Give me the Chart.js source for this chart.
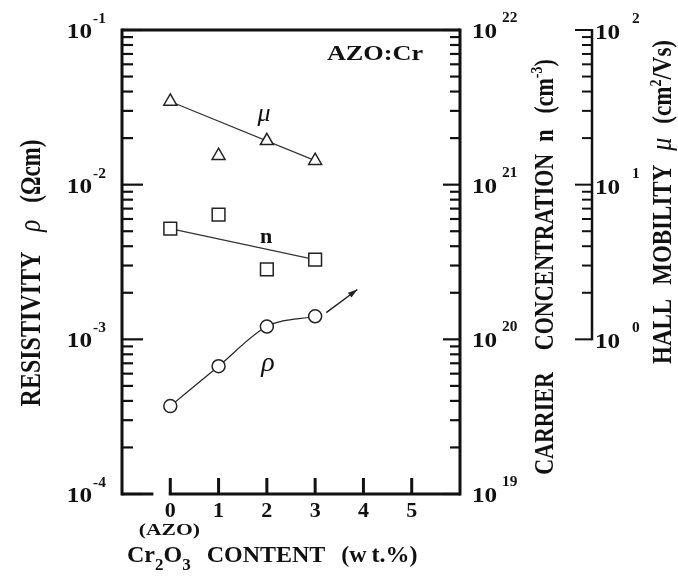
<!DOCTYPE html>
<html>
<head>
<meta charset="utf-8">
<script src="https://cdn.jsdelivr.net/npm/chart.js@4.4.0/dist/chart.umd.min.js"></script>
<style>
  html, body { margin: 0; padding: 0; background: #fff; }
  #wrap { width: 678px; height: 579px; position: relative; }
</style>
</head>
<body>
<div id="wrap"><canvas id="azoChart"></canvas></div>
<script>
// Cr2O3 content (wt.%) and measured film properties
const contents = [0, 1, 2, 3];
const resistivity = [3.7e-4, 6.7e-4, 1.21e-3, 1.41e-3];   // Ω cm
const carrierConc = [5.2e20, 6.4e20, 2.83e20, 3.28e20];    // cm^-3
const mobility = [34.5, 15.4, 19.2, 14.3];                 // cm2/Vs

// straight trend lines for n and mu
const fitContents = [0, 3];
const carrierFit = [5.2e20, 3.28e20];
const mobilityFit = [34.5, 14.3];

// arrow that continues the resistivity curve
const rhoArrow = [[3.23, 1.49e-3], [3.875, 2.1e-3]];

const xTicks = [0, 1, 2, 3, 4, 5];
const rhoDecades = [-4, -3, -2, -1];
const nDecades = [19, 20, 21, 22];
const muDecades = [0, 1, 2];

const SERIF = '"Liberation Serif", "DejaVu Serif", serif';
const INK = '#111';

function pts(xs, ys) {
  return xs.map((x, i) => ({ x: x, y: ys[i] }));
}

// draws a row of text pieces (for super/subscripts), optionally rotated and stretched
function drawRuns(ctx, runs, x, y, o) {
  o = o || {};
  ctx.save();
  ctx.translate(x, y);
  if (o.angle) ctx.rotate(o.angle);
  ctx.scale(o.sx || 1, o.sy || 1);
  ctx.fillStyle = INK;
  ctx.textAlign = 'left';
  ctx.textBaseline = 'alphabetic';
  let w = 0;
  runs.forEach(r => { ctx.font = r.font; w += ctx.measureText(r.text).width + (r.gap || 0); });
  let cx = o.align === 'center' ? -w / 2 : o.align === 'right' ? -w : 0;
  runs.forEach(r => {
    ctx.font = r.font;
    ctx.fillText(r.text, cx, r.dy || 0);
    cx += ctx.measureText(r.text).width + (r.gap || 0);
  });
  ctx.restore();
}

function line(ctx, x1, y1, x2, y2) {
  ctx.beginPath();
  ctx.moveTo(x1, y1);
  ctx.lineTo(x2, y2);
  ctx.stroke();
}

// log ticks: major at every decade, minor at 2..9
function logTicks(ctx, scale, decades, x0, dir, major, minor) {
  decades.forEach((d, i) => {
    const y = scale.getPixelForValue(Math.pow(10, d));
    line(ctx, x0, y, x0 + dir * major, y);
    if (i < decades.length - 1) {
      for (let m = 2; m <= 9; m++) {
        const ym = scale.getPixelForValue(m * Math.pow(10, d));
        line(ctx, x0, ym, x0 + dir * minor, ym);
      }
    }
  });
}

const axesPlugin = {
  id: 'axesPlugin',
  afterDraw(chart) {
    const { ctx, chartArea: a, scales } = chart;
    const sx = scales.x, sy = scales.y, sn = scales.yN, sm = scales.yMu;
    const bold = s => 'bold ' + s + 'px ' + SERIF;
    const ital = s => 'italic ' + s + 'px ' + SERIF;

    ctx.save();
    ctx.strokeStyle = INK;
    ctx.lineCap = 'butt';

    // frame, bottom line broken just before x = 0
    ctx.lineWidth = 3;
    line(ctx, a.left, a.top - 1.5, a.left, a.bottom + 1.5);
    line(ctx, a.right, a.top - 1.5, a.right, a.bottom + 1.5);
    line(ctx, a.left, a.top, a.right, a.top);
    line(ctx, a.left, a.bottom, sx.getPixelForValue(-0.35), a.bottom);
    line(ctx, sx.getPixelForValue(0) - 1.5, a.bottom, a.right, a.bottom);

    // x ticks point up
    xTicks.forEach(v => {
      const x = sx.getPixelForValue(v);
      line(ctx, x, a.bottom, x, a.bottom - 16);
    });

    // inward log ticks on both sides of the frame
    ctx.lineWidth = 2.2;
    logTicks(ctx, sy, rhoDecades, a.left, 1, 21, 11);
    logTicks(ctx, sn, nDecades, a.right, -1, 17, 10);

    // separate mobility axis
    const mx = a.right + 132;
    ctx.lineWidth = 2.5;
    line(ctx, mx, sm.getPixelForValue(1) + 1, mx, sm.getPixelForValue(100) - 1);
    ctx.lineWidth = 2;
    logTicks(ctx, sm, muDecades, mx, -1, 17, 10);

    // resistivity arrow
    const [p0, p1] = rhoArrow.map(p => [sx.getPixelForValue(p[0]), sy.getPixelForValue(p[1])]);
    ctx.lineWidth = 1.5;
    ctx.strokeStyle = '#222';
    line(ctx, p0[0], p0[1], p1[0], p1[1]);
    const ang = Math.atan2(p1[1] - p0[1], p1[0] - p0[0]);
    ctx.fillStyle = '#222';
    ctx.beginPath();
    ctx.moveTo(p1[0], p1[1]);
    ctx.lineTo(p1[0] - 10 * Math.cos(ang - 0.3), p1[1] - 10 * Math.sin(ang - 0.3));
    ctx.lineTo(p1[0] - 10 * Math.cos(ang + 0.3), p1[1] - 10 * Math.sin(ang + 0.3));
    ctx.closePath();
    ctx.fill();
    ctx.restore();

    // tick labels
    rhoDecades.forEach(d => {
      const y = sy.getPixelForValue(Math.pow(10, d));
      drawRuns(ctx, [{ text: '10', font: bold(21) }], a.left - 30, y + 8, { align: 'right', sx: 1.2 });
      drawRuns(ctx, [{ text: '-' + (-d), font: bold(14) }], a.left - 29, y - 7, { sx: 1.1 });
    });
    nDecades.forEach(d => {
      const y = sn.getPixelForValue(Math.pow(10, d));
      drawRuns(ctx, [{ text: '10', font: bold(21) }], a.right + 12, y + 8, { sx: 1.2 });
      drawRuns(ctx, [{ text: String(d), font: bold(14) }], a.right + 42, y - 8, { sx: 1.1 });
    });
    muDecades.forEach(d => {
      const y = sm.getPixelForValue(Math.pow(10, d));
      drawRuns(ctx, [{ text: '10', font: bold(21) }], mx + 3, y + 9, { sx: 1.2 });
      drawRuns(ctx, [{ text: String(d), font: bold(14) }], mx + 40, y - 7, { sx: 1.1 });
    });
    xTicks.forEach(v => {
      drawRuns(ctx, [{ text: String(v), font: bold(22) }], sx.getPixelForValue(v), a.bottom + 23, { align: 'center' });
    });
    drawRuns(ctx, [{ text: '(AZO)', font: bold(16) }], sx.getPixelForValue(0) - 1, a.bottom + 41, { align: 'center', sx: 1.35 });

    // axis titles
    drawRuns(ctx, [
      { text: 'Cr', font: bold(24) },
      { text: '2', font: bold(17), dy: 8 },
      { text: 'O', font: bold(24) },
      { text: '3', font: bold(17), dy: 8, gap: 16 },
      { text: 'CONTENT', font: bold(24), gap: 16 },
      { text: '(w\u2009t.%)', font: bold(24) }
    ], 127, 562);

    const up = -Math.PI / 2;
    drawRuns(ctx, [
      { text: 'RESISTIVITY', font: bold(24), gap: 20 },
      { text: '\u03c1', font: ital(25), gap: 17 },
      { text: '(\u03a9cm)', font: bold(23) }
    ], 40, 273, { angle: up, align: 'center', sy: 1.25 });

    drawRuns(ctx, [
      { text: 'CARRIER', font: bold(22), gap: 22 },
      { text: 'CONCENTRATION', font: bold(22), gap: 12 },
      { text: 'n', font: bold(22), gap: 16 },
      { text: '(cm', font: bold(22) },
      { text: '-3', font: bold(14), dy: -9 },
      { text: ')', font: bold(22) }
    ], 553, 267, { angle: up, align: 'center', sy: 1.2 });

    drawRuns(ctx, [
      { text: 'HALL', font: bold(23), gap: 14 },
      { text: 'MOBILITY', font: bold(23), gap: 14 },
      { text: '\u03bc', font: ital(26), gap: 14 },
      { text: '(cm', font: bold(23) },
      { text: '2', font: bold(14), dy: -9 },
      { text: '/Vs)', font: bold(23) }
    ], 671, 202, { angle: up, align: 'center', sy: 1.15 });

    // series labels and sample name
    drawRuns(ctx, [{ text: 'AZO:Cr', font: bold(21) }], 375, 60, { align: 'center', sx: 1.25 });
    drawRuns(ctx, [{ text: '\u03bc', font: ital(26) }], 264, 121, { align: 'center' });
    drawRuns(ctx, [{ text: 'n', font: bold(22) }], 266, 243, { align: 'center' });
    drawRuns(ctx, [{ text: '\u03c1', font: ital(28) }], 268, 371, { align: 'center' });
  }
};

const markerBase = {
  showLine: false,
  borderColor: '#222',
  backgroundColor: '#fff',
  pointBorderWidth: 1.5
};
const fitBase = {
  showLine: true,
  pointRadius: 0,
  borderColor: '#333',
  borderWidth: 1.2
};

new Chart(document.getElementById('azoChart'), {
  type: 'scatter',
  data: {
    datasets: [
      Object.assign({}, markerBase, {
        label: 'rho',
        data: pts(contents, resistivity),
        yAxisID: 'y',
        showLine: true,
        borderWidth: 1.2,
        cubicInterpolationMode: 'monotone',
        pointStyle: 'circle',
        pointRadius: 6.5
      }),
      Object.assign({}, markerBase, {
        label: 'n',
        data: pts(contents, carrierConc),
        yAxisID: 'yN',
        pointStyle: 'rect',
        pointRadius: 9
      }),
      Object.assign({}, markerBase, {
        label: 'mu',
        data: pts(contents, mobility),
        yAxisID: 'yMu',
        pointStyle: 'triangle',
        pointRadius: 7.5
      }),
      Object.assign({}, fitBase, { label: 'n fit', data: pts(fitContents, carrierFit), yAxisID: 'yN' }),
      Object.assign({}, fitBase, { label: 'mu fit', data: pts(fitContents, mobilityFit), yAxisID: 'yMu' })
    ]
  },
  options: {
    responsive: true,
    maintainAspectRatio: false,
    animation: false,
    layout: { padding: { left: 122, right: 218, top: 30, bottom: 85 } },
    plugins: {
      legend: { display: false },
      tooltip: { enabled: false }
    },
    scales: {
      x: { type: 'linear', min: -1, max: 6, display: false },
      y: { type: 'logarithmic', min: 1e-4, max: 1e-1, display: false },
      yN: { type: 'logarithmic', min: 1e19, max: 1e22, display: false },
      yMu: { type: 'logarithmic', min: 1e-1, max: 1e2, display: false }
    }
  },
  plugins: [axesPlugin]
});
</script>
</body>
</html>
